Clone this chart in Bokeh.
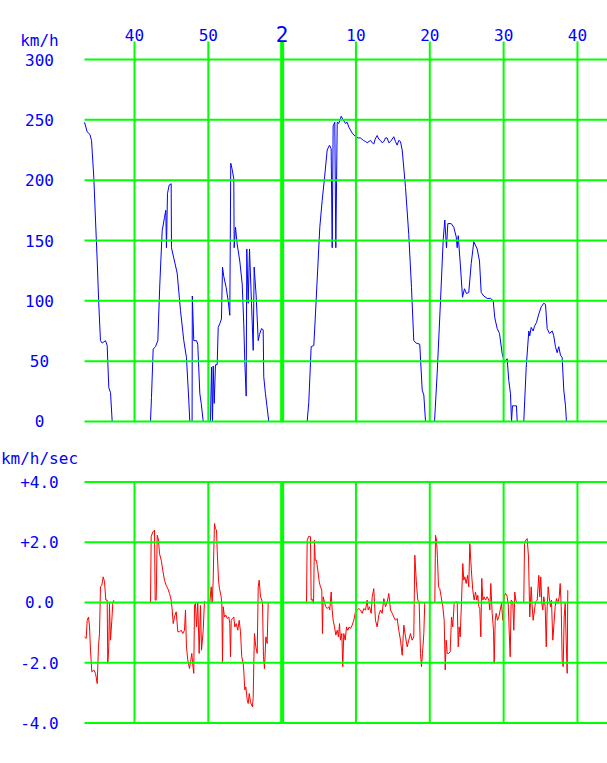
from bokeh.plotting import figure
from bokeh.models import Range1d
from bokeh.core.properties import value
from bokeh.layouts import column
from bokeh.embed import file_html
from bokeh.resources import INLINE

# ---------------- data (time in minutes after 1:00, 60 = 2:00) ----------------
MINUTE_TICKS = [40, 50, 70, 80, 90, 100]
MINUTE_LABELS = ["40", "50", "10", "20", "30", "40"]
HOUR_TICK = 60
HOUR_LABEL = "2"
SPEED_TICKS = [0, 50, 100, 150, 200, 250, 300]
SPEED_LABELS = ["0", "50", "100", "150", "200", "250", "300"]
ACCEL_TICKS = [-4, -2, 0, 2, 4]
ACCEL_LABELS = ["-4.0", "-2.0", "0.0", "+2.0", "+4.0"]
SPEED_UNIT = "km/h"
ACCEL_UNIT = "km/h/sec"
T_START, T_END = 33.23, 104.07          # time span of the plotting area

# speed (km/h), one list per run between stations: (minute, km/h)
SPEED_RUN1 = [(33.23, 248), (33.59, 240), (33.95, 238), (34.18, 233), (34.49, 202), (34.72, 167),
              (34.95, 133), (35.16, 98), (35.39, 67), (35.63, 65), (36.07, 67), (36.30, 63),
              (36.52, 28), (36.75, 24), (36.98, 0)]
SPEED_RUN2 = [(42.17, 0), (42.30, 20), (42.53, 60), (42.84, 62), (43.16, 67), (43.43, 114),
              (43.75, 158), (44.06, 169), (44.24, 175), (44.33, 144), (44.47, 189), (44.70, 196),
              (44.97, 197), (45.01, 144), (45.78, 123), (46.23, 92), (46.68, 67), (47.04, 53),
              (47.36, 17), (47.49, 0), (47.80, 0), (47.83, 104), (48.03, 67), (48.40, 67),
              (48.57, 64), (48.85, 23), (49.04, 15), (49.31, 0)]
SPEED_RUN3 = [(50.29, 0), (50.43, 45), (50.57, 0), (50.66, 46), (50.80, 15), (50.97, 47),
              (51.20, 47), (51.34, 78), (51.55, 81), (51.78, 85), (51.92, 128), (52.10, 120),
              (52.42, 111), (52.69, 100), (52.91, 88), (53.04, 214), (53.23, 209), (53.45, 201),
              (53.50, 144), (53.68, 161), (53.91, 147), (54.26, 133), (54.59, 114), (54.80, 81),
              (54.94, 50), (55.13, 21), (55.21, 143), (55.40, 98), (55.58, 143), (55.85, 98),
              (56.08, 59), (56.21, 128), (56.48, 104), (56.76, 67), (56.93, 72), (57.20, 77),
              (57.43, 76), (57.51, 37), (57.74, 23), (58.19, 0)]
SPEED_RUN4 = [(63.39, 0), (63.61, 16), (63.93, 62), (64.29, 63), (64.52, 90), (64.83, 128),
              (65.10, 161), (65.42, 183), (65.74, 202), (66.10, 225), (66.41, 229), (66.64, 226),
              (66.78, 144), (66.91, 245), (67.13, 248), (67.27, 144), (67.46, 248), (67.67, 247),
              (68.00, 253), (68.27, 250), (68.58, 247), (68.81, 248), (69.03, 244), (69.49, 239),
              (69.94, 236), (70.30, 235), (70.61, 235), (71.00, 233), (71.30, 232), (71.52, 231),
              (71.97, 233), (72.20, 231), (72.41, 230), (72.60, 234), (72.87, 237), (73.10, 234),
              (73.32, 233), (73.55, 231), (73.77, 232), (74.00, 235), (74.23, 235), (74.45, 231),
              (74.68, 232), (74.90, 234), (75.12, 236), (75.35, 232), (75.58, 229), (75.80, 233),
              (76.03, 232), (76.26, 225), (76.71, 194), (77.15, 155), (77.52, 111), (77.83, 67),
              (78.16, 65), (78.64, 64), (78.97, 26), (79.19, 22), (79.42, 0)]
SPEED_RUN5 = [(80.64, 0), (81.00, 40), (81.45, 100), (81.81, 150), (82.03, 167), (82.26, 144),
              (82.44, 164), (82.90, 164), (83.25, 161), (83.58, 153), (83.71, 144), (83.85, 154),
              (84.16, 128), (84.43, 103), (84.70, 110), (84.97, 106), (85.28, 107), (85.61, 131),
              (85.96, 149), (86.42, 143), (86.73, 133), (86.96, 107), (87.31, 104), (87.77, 102),
              (88.22, 102), (88.59, 100), (88.80, 86), (89.13, 77), (89.44, 73), (89.81, 56),
              (90.12, 49), (90.48, 52), (90.70, 34), (90.93, 23), (91.07, 0), (91.20, 13),
              (91.51, 13), (91.74, 13), (91.84, 0)]
SPEED_RUN6 = [(92.73, 0), (93.06, 45), (93.41, 75), (93.54, 71), (93.73, 78), (94.00, 75),
              (94.18, 79), (94.45, 82), (94.76, 89), (95.09, 95), (95.44, 98), (95.67, 97),
              (95.90, 77), (96.21, 73), (96.58, 75), (96.79, 71), (97.02, 62), (97.25, 57),
              (97.47, 62), (97.70, 55), (97.93, 53), (98.15, 26), (98.38, 13), (98.51, 0)]

# acceleration (km/h/sec): (minute, km/h/sec)
ACCEL_RUN1 = [(33.23, -1.14), (33.46, -1.19), (33.59, -0.59), (33.77, -0.48), (33.91, -0.81),
              (34.04, -1.58), (34.22, -2.30), (34.49, -2.24), (34.72, -2.35), (34.95, -2.69),
              (35.12, -1.47), (35.26, -1.03), (35.39, 0.52), (35.57, 0.57), (35.76, 0.85),
              (35.94, 0.69), (36.11, 0.08), (36.30, 0.08), (36.38, -2.02), (36.52, -1.47),
              (36.61, -0.03), (36.75, -1.25), (36.93, -0.59), (37.06, -0.03), (37.20, 0.08)]
ACCEL_RUN2 = [(42.17, 0.0), (42.26, 2.18), (42.48, 2.34), (42.71, 2.40), (42.80, 0.08), (42.94, 0.08),
              (43.08, 2.23), (43.25, 2.07), (43.39, 1.62), (43.62, 1.40), (43.83, 1.07), (44.06, 0.74),
              (44.29, 0.57), (44.51, 0.46), (44.74, 0.30), (44.97, 0.08), (45.11, -0.25), (45.24, -0.70),
              (45.42, -0.48), (45.65, -0.31), (45.87, -0.97), (46.10, -0.97), (46.33, -0.92),
              (46.54, -1.03), (46.77, -0.92), (46.91, -0.25), (47.04, -1.47), (47.22, -1.91),
              (47.45, -2.19), (47.59, -1.97), (47.76, -1.69), (47.90, -2.08), (48.03, -2.35),
              (48.13, -0.09), (48.26, -0.03), (48.40, -0.81), (48.57, 0.0), (48.76, -1.69),
              (48.94, -0.10), (49.08, -1.58), (49.31, -0.92), (49.48, 0.05)]
ACCEL_RUN3 = [(50.20, 0.0), (50.39, 0.52), (50.52, 0.0), (50.66, 0.74), (50.74, 1.73), (50.84, 2.62),
              (50.97, 2.45), (51.11, 2.40), (51.20, 1.73), (51.38, 0.74), (51.51, 0.46), (51.74, 0.19),
              (51.83, -0.03), (51.92, -1.97), (52.01, -0.14), (52.19, -0.48), (52.37, -0.42),
              (52.56, -0.53), (52.77, -0.48), (52.91, -0.70), (53.00, -1.80), (53.10, -0.59),
              (53.27, -0.53), (53.45, -0.48), (53.59, -0.81), (53.78, -0.70), (53.99, -0.92),
              (54.18, -0.59), (54.36, -0.97), (54.53, -1.80), (54.72, -2.02), (54.80, -2.24),
              (54.94, -2.90), (55.08, -2.80), (55.27, -3.24), (55.40, -3.35), (55.54, -3.02),
              (55.71, -3.29), (55.85, -3.40), (55.98, -3.46), (56.08, -3.13), (56.16, -2.02),
              (56.25, -1.03), (56.43, -1.47), (56.62, -1.69), (56.76, 0.52), (56.89, 0.74),
              (57.07, 0.19), (57.24, 0.08), (57.34, -0.03), (57.47, -1.80), (57.61, -2.19),
              (57.79, -1.14), (57.97, -1.36), (58.11, 0.0), (58.25, 0.0)]
ACCEL_RUN4 = [(63.30, 0.0), (63.39, 2.07), (63.61, 2.20), (63.84, 2.18), (63.93, 0.08), (64.11, 0.10),
              (64.25, -0.03), (64.38, 2.07), (64.48, 1.40), (64.65, 1.40), (64.83, 1.07), (65.02, 0.69),
              (65.19, 0.52), (65.37, 0.41), (65.46, -1.03), (65.56, 0.19), (65.74, 0.0), (65.91, -0.14),
              (66.10, -0.20), (66.32, -0.14), (66.45, -0.25), (66.64, 0.35), (66.78, -0.25),
              (66.91, -0.59), (67.09, -0.81), (67.27, -1.08), (67.46, -0.92), (67.63, -1.14),
              (67.77, -0.70), (67.90, -1.25), (68.08, -1.03), (68.21, -2.13), (68.35, -1.03),
              (68.54, -1.25), (68.72, -0.81), (68.89, -0.92), (69.08, -0.81), (69.26, -0.86),
              (69.49, -0.75), (69.70, -0.59), (69.94, -0.31), (70.17, -0.25), (70.38, -0.20),
              (70.61, -0.25), (70.84, -0.36), (71.06, -0.20), (71.29, -0.25), (71.52, 0.08),
              (71.65, -0.25), (71.83, -0.14), (72.06, -0.36), (72.20, 0.19), (72.41, 0.46),
              (72.64, -0.59), (72.87, -0.81), (73.09, -0.42), (73.32, -0.25), (73.55, -0.36),
              (73.77, 0.13), (74.00, -0.14), (74.23, 0.02), (74.45, 0.30), (74.68, -0.25),
              (74.91, -0.36), (75.12, -0.48), (75.35, -0.59), (75.58, -0.53), (75.80, -0.92),
              (76.03, -1.25), (76.26, -1.75), (76.48, -0.75), (76.71, -1.14), (76.94, -1.47),
              (77.15, -1.25), (77.38, -1.03), (77.61, -1.25), (77.83, -1.14), (77.97, 1.57),
              (78.16, 0.74), (78.37, 0.08), (78.56, 0.02), (78.74, -1.69), (78.87, -2.13),
              (79.01, -1.69), (79.19, -1.03), (79.32, 0.0), (79.55, 0.0)]
ACCEL_RUN5 = [(80.68, 0.0), (80.77, 2.23), (80.91, 2.07), (81.04, 1.46), (81.18, 0.52), (81.35, 0.46),
              (81.54, 0.19), (81.76, -0.14), (81.95, -0.59), (82.09, -2.24), (82.22, -1.25),
              (82.36, -1.69), (82.57, -1.69), (82.76, -1.63), (82.94, -0.48), (83.11, -0.81),
              (83.30, -0.03), (83.48, 0.02), (83.71, 0.02), (83.85, -1.47), (83.98, -0.81),
              (84.12, -1.14), (84.29, 0.02), (84.47, 1.29), (84.60, 0.74), (84.74, 0.85), (84.93, 0.63),
              (85.11, 0.90), (85.28, 0.52), (85.42, 1.96), (85.55, 1.40), (85.69, 0.85), (85.82, 0.41),
              (86.01, 0.08), (86.19, 0.35), (86.37, 0.08), (86.50, 0.24), (86.64, -0.14), (86.77, -0.20),
              (86.91, -1.14), (87.04, 0.80), (87.18, 0.08), (87.37, 0.19), (87.54, 0.08), (87.77, 0.19),
              (87.99, 0.08), (88.13, -0.25), (88.26, 0.63), (88.45, -0.36), (88.63, -0.92),
              (88.72, -2.02), (88.86, -0.59), (88.99, -0.36), (89.17, -0.59), (89.35, -0.48),
              (89.53, -0.25), (89.71, -0.03), (89.89, -0.59), (90.08, 0.19), (90.25, 0.30),
              (90.43, 0.24), (90.62, -0.03), (90.75, -0.92), (90.89, -1.80), (91.02, 0.08),
              (91.24, 0.02), (91.38, -0.92), (91.51, 0.35), (91.65, 0.08), (91.78, 0.0)]
ACCEL_RUN6 = [(92.73, 0.0), (92.83, 1.96), (93.00, 2.07), (93.19, 2.12), (93.37, 1.51), (93.50, 0.0),
              (93.54, -0.48), (93.73, 0.52), (93.87, -0.14), (94.00, -0.59), (94.18, -0.25),
              (94.32, 0.02), (94.55, 0.08), (94.76, 0.90), (94.90, 0.19), (95.03, 0.85), (95.17, -0.03),
              (95.31, -0.25), (95.44, 0.19), (95.63, -0.14), (95.77, -1.47), (95.90, -0.14),
              (96.04, 0.52), (96.17, 0.19), (96.35, -0.14), (96.48, 0.08), (96.66, -1.25),
              (96.79, -0.81), (96.98, -0.14), (97.16, 0.13), (97.34, -0.03), (97.53, 0.19),
              (97.66, 0.63), (97.80, -0.14), (97.93, -1.91), (98.07, -2.13), (98.20, -0.48),
              (98.34, -0.03), (98.47, -1.25), (98.61, -2.35), (98.69, 0.41)]

SPEED_RUNS = [SPEED_RUN1, SPEED_RUN2, SPEED_RUN3, SPEED_RUN4, SPEED_RUN5, SPEED_RUN6]
ACCEL_RUNS = [ACCEL_RUN1, ACCEL_RUN2, ACCEL_RUN3, ACCEL_RUN4, ACCEL_RUN5, ACCEL_RUN6]

# ---------------- layout / styling (positions in data units of each panel) ----------------
FONT = "DejaVu Sans Mono"
BLUE = "#0000ff"
RED = "#ff0000"
GREEN = "#00ff00"
LABEL_SIZE = "16px"
HOUR_SIZE = "21px"

VIEW_T = (21.85, 104.07)        # whole canvas width in minutes
VIEW_SPEED = (-9.12, 348.9)     # whole top canvas height in km/h
VIEW_ACCEL = (-4.577, 5.638)    # whole bottom canvas height in km/h/sec
LABEL_COL_T = 27.13             # centre of the left label column
SPEED_GRID_TOP = 314.9          # vertical grid lines reach up to here
TIME_LABEL_V = 320.7            # centre line of the top time labels
HOUR_LABEL_V = 321.5            # centre line of the hour label
SPEED_UNIT_V = 315.7            # centre line of "km/h"
ACCEL_UNIT_V = 4.79             # centre line of "km/h/sec"


def base_figure(height, y_view):
    p = figure(width=607, height=height, x_range=Range1d(*VIEW_T), y_range=Range1d(*y_view),
               x_axis_location=None, y_axis_location=None, output_backend="svg",
               toolbar_location=None, min_border=0)
    p.grid.visible = False
    p.outline_line_color = None
    p.background_fill_color = "white"
    p.border_fill_color = "white"
    return p


def draw_grid(p, y_ticks, y_lo, y_hi):
    # horizontal lines
    p.segment(x0=[T_START] * len(y_ticks), y0=y_ticks, x1=[T_END] * len(y_ticks), y1=y_ticks,
              line_color=GREEN, line_width=2)
    # vertical minute lines
    p.segment(x0=MINUTE_TICKS, y0=[y_lo] * len(MINUTE_TICKS), x1=MINUTE_TICKS,
              y1=[y_hi] * len(MINUTE_TICKS), line_color=GREEN, line_width=2)
    # hour line
    p.segment(x0=[HOUR_TICK], y0=[y_lo], x1=[HOUR_TICK], y1=[y_hi], line_color=GREEN, line_width=4)


def put_text(p, xs, ys, texts, size=LABEL_SIZE):
    p.text(x=xs, y=ys, text=texts, text_align="center", text_baseline="middle",
           text_font=value(FONT), text_font_size=value(size), text_color=BLUE)


# ---------------- speed panel ----------------
top = base_figure(432, VIEW_SPEED)
top.multi_line(xs=[[t for t, _ in r] for r in SPEED_RUNS],
               ys=[[v for _, v in r] for r in SPEED_RUNS],
               line_color=BLUE, line_width=1)
draw_grid(top, SPEED_TICKS, SPEED_TICKS[0], SPEED_GRID_TOP)
put_text(top, [LABEL_COL_T] * len(SPEED_TICKS), SPEED_TICKS, SPEED_LABELS)
put_text(top, MINUTE_TICKS, [TIME_LABEL_V] * len(MINUTE_TICKS), MINUTE_LABELS)
put_text(top, [HOUR_TICK], [HOUR_LABEL_V], [HOUR_LABEL], HOUR_SIZE)
put_text(top, [LABEL_COL_T], [SPEED_UNIT_V], [SPEED_UNIT])

# ---------------- acceleration panel ----------------
bot = base_figure(308, VIEW_ACCEL)
bot.multi_line(xs=[[t for t, _ in r] for r in ACCEL_RUNS],
               ys=[[a for _, a in r] for r in ACCEL_RUNS],
               line_color=RED, line_width=1)
draw_grid(bot, ACCEL_TICKS, ACCEL_TICKS[0], ACCEL_TICKS[-1])
put_text(bot, [LABEL_COL_T] * len(ACCEL_TICKS), ACCEL_TICKS, ACCEL_LABELS)
put_text(bot, [LABEL_COL_T], [ACCEL_UNIT_V], [ACCEL_UNIT])

layout = column(top, bot, spacing=0)
open("out.html", "w").write(file_html(layout, INLINE))
